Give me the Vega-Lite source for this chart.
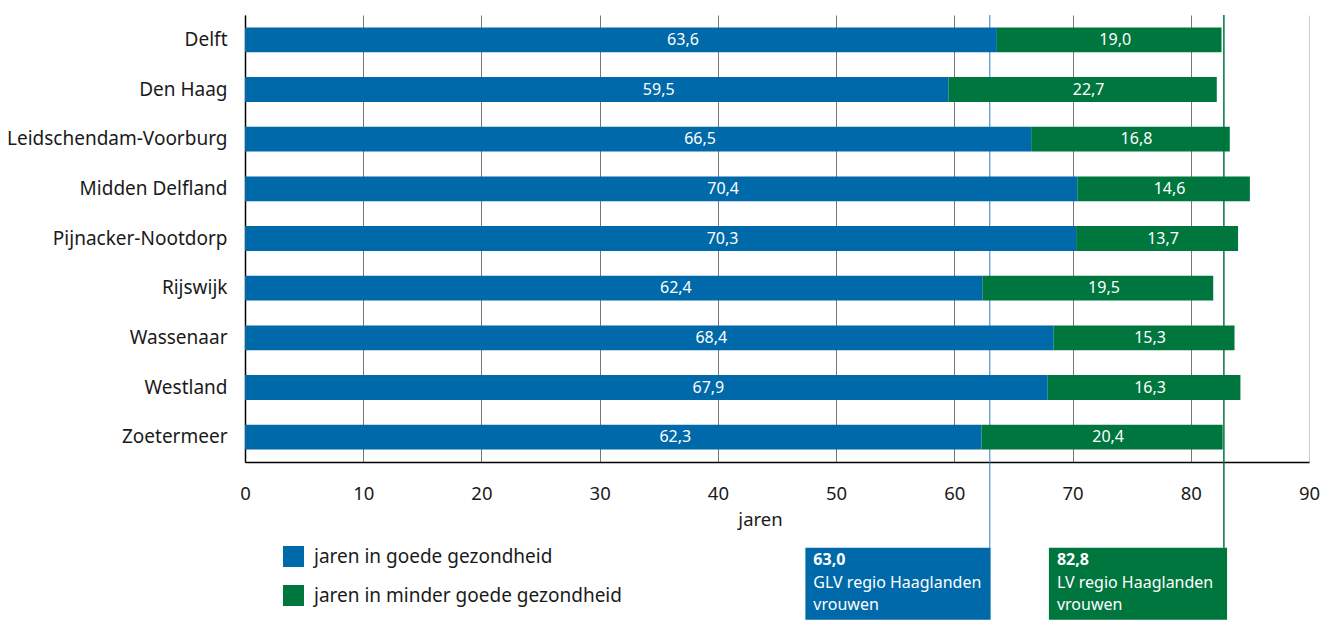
{
  "$schema": "https://vega.github.io/schema/vega-lite/v6.json",
  "width": 1064,
  "height": 447,
  "autosize": {"type": "none"},
  "padding": {"left": 245, "top": 15, "right": 15, "bottom": 158},
  "config": {
    "font": "Noto Sans",
    "view": {"stroke": null},
    "locale": {"number": {"decimal": ",", "thousands": ".", "grouping": [3], "currency": ["€ ", ""]}}
  },
  "datasets": {
    "tabel": [
      {"gemeente": "Delft", "categorie": "jaren in goede gezondheid", "jaren": 63.6},
      {"gemeente": "Delft", "categorie": "jaren in minder goede gezondheid", "jaren": 19.0},
      {"gemeente": "Den Haag", "categorie": "jaren in goede gezondheid", "jaren": 59.5},
      {"gemeente": "Den Haag", "categorie": "jaren in minder goede gezondheid", "jaren": 22.7},
      {"gemeente": "Leidschendam-Voorburg", "categorie": "jaren in goede gezondheid", "jaren": 66.5},
      {"gemeente": "Leidschendam-Voorburg", "categorie": "jaren in minder goede gezondheid", "jaren": 16.8},
      {"gemeente": "Midden Delfland", "categorie": "jaren in goede gezondheid", "jaren": 70.4},
      {"gemeente": "Midden Delfland", "categorie": "jaren in minder goede gezondheid", "jaren": 14.6},
      {"gemeente": "Pijnacker-Nootdorp", "categorie": "jaren in goede gezondheid", "jaren": 70.3},
      {"gemeente": "Pijnacker-Nootdorp", "categorie": "jaren in minder goede gezondheid", "jaren": 13.7},
      {"gemeente": "Rijswijk", "categorie": "jaren in goede gezondheid", "jaren": 62.4},
      {"gemeente": "Rijswijk", "categorie": "jaren in minder goede gezondheid", "jaren": 19.5},
      {"gemeente": "Wassenaar", "categorie": "jaren in goede gezondheid", "jaren": 68.4},
      {"gemeente": "Wassenaar", "categorie": "jaren in minder goede gezondheid", "jaren": 15.3},
      {"gemeente": "Westland", "categorie": "jaren in goede gezondheid", "jaren": 67.9},
      {"gemeente": "Westland", "categorie": "jaren in minder goede gezondheid", "jaren": 16.3},
      {"gemeente": "Zoetermeer", "categorie": "jaren in goede gezondheid", "jaren": 62.3},
      {"gemeente": "Zoetermeer", "categorie": "jaren in minder goede gezondheid", "jaren": 20.4}
    ]
  },
  "resolve": {"scale": {"y": "independent"}},
  "layer": [
    {
      "data": {"values": [{}]},
      "mark": {"type": "rule", "color": "#2a7fc0", "strokeWidth": 1},
      "encoding": {
        "x": {"datum": 63.0, "type": "quantitative"},
        "y": {"datum": 1, "type": "quantitative", "scale": {"domain": [0, 1]}, "axis": null},
        "y2": {"datum": -0.192}
      }
    },
    {
      "data": {"values": [{}]},
      "mark": {"type": "rule", "color": "#00773f", "strokeWidth": 1.5},
      "encoding": {
        "x": {"datum": 82.8, "type": "quantitative"},
        "y": {"datum": 1, "type": "quantitative", "scale": {"domain": [0, 1]}, "axis": null},
        "y2": {"datum": -0.192}
      }
    },
    {
      "data": {"name": "tabel"},
      "transform": [
        {"stack": "jaren", "groupby": ["gemeente"], "sort": [{"field": "categorie", "order": "ascending"}], "as": ["x0", "x1"]}
      ],
      "mark": {"type": "bar"},
      "encoding": {
        "y": {
          "field": "gemeente", "type": "nominal", "sort": null,
          "scale": {"paddingInner": 0.5, "paddingOuter": 0.25},
          "axis": {"title": null, "ticks": false, "labelPadding": 18, "labelFontSize": 19, "labelLimit": 0, "labelColor": "#1a1a1a", "domainColor": "#000000", "domainWidth": 1.5}
        },
        "x": {
          "field": "x0", "type": "quantitative",
          "scale": {"domain": [0, 90], "nice": false},
          "axis": {
            "title": "jaren", "values": [0, 10, 20, 30, 40, 50, 60, 70, 80, 90],
            "grid": true,
            "gridColor": {"condition": {"test": "datum.value === 90", "value": "#cccccc"}, "value": "#777777"},
            "gridWidth": 1,
            "ticks": false, "domainColor": "#000000", "domainWidth": 1.5,
            "labelFlush": false, "labelOverlap": false,
            "labelPadding": 22, "labelFontSize": 18.5, "labelColor": "#1a1a1a",
            "titleFontSize": 18.5, "titleFontWeight": "normal", "titleColor": "#1a1a1a", "titlePadding": 8, "titleX": 515
          }
        },
        "x2": {"field": "x1"},
        "color": {
          "field": "categorie", "type": "nominal",
          "scale": {"domain": ["jaren in goede gezondheid", "jaren in minder goede gezondheid"], "range": ["#0069aa", "#00763f"]},
          "legend": {
            "title": null, "orient": "none", "legendX": 38, "legendY": 531, "direction": "vertical",
            "symbolType": "square", "symbolSize": 441, "symbolStrokeWidth": 0, "symbolOpacity": 1,
            "labelFontSize": 19, "labelLimit": 0, "labelColor": "#1a1a1a", "rowPadding": 18, "labelOffset": 10, "padding": 0
          }
        }
      }
    },
    {
      "data": {"name": "tabel"},
      "transform": [
        {"stack": "jaren", "groupby": ["gemeente"], "sort": [{"field": "categorie", "order": "ascending"}], "as": ["x0", "x1"]},
        {"calculate": "(datum.x0 + datum.x1) / 2", "as": "midden"},
        {"filter": "datum.categorie === 'jaren in goede gezondheid'"}
      ],
      "mark": {"type": "text", "color": "white", "fontSize": 16, "dx": 62, "baseline": "middle"},
      "encoding": {
        "y": {"field": "gemeente", "type": "nominal", "sort": null, "scale": {"paddingInner": 0.5, "paddingOuter": 0.25}, "axis": null},
        "x": {"field": "midden", "type": "quantitative"},
        "text": {"field": "jaren", "type": "quantitative", "format": ".1f"}
      }
    },
    {
      "data": {"name": "tabel"},
      "transform": [
        {"stack": "jaren", "groupby": ["gemeente"], "sort": [{"field": "categorie", "order": "ascending"}], "as": ["x0", "x1"]},
        {"calculate": "(datum.x0 + datum.x1) / 2", "as": "midden"},
        {"filter": "datum.categorie === 'jaren in minder goede gezondheid'"}
      ],
      "mark": {"type": "text", "color": "white", "fontSize": 16, "dx": 6, "baseline": "middle"},
      "encoding": {
        "y": {"field": "gemeente", "type": "nominal", "sort": null, "scale": {"paddingInner": 0.5, "paddingOuter": 0.25}, "axis": null},
        "x": {"field": "midden", "type": "quantitative"},
        "text": {"field": "jaren", "type": "quantitative", "format": ".1f"}
      }
    },
    {
      "data": {"values": [{}]},
      "mark": {"type": "rect", "color": "#0069aa"},
      "encoding": {
        "x": {"datum": 47.4, "type": "quantitative"},
        "x2": {"datum": 63.07},
        "y": {"datum": -0.192, "type": "quantitative", "scale": {"domain": [0, 1]}, "axis": null},
        "y2": {"datum": -0.353}
      }
    },
    {
      "data": {"values": [{}]},
      "mark": {"type": "rect", "color": "#00763f"},
      "encoding": {
        "x": {"datum": 68.0, "type": "quantitative"},
        "x2": {"datum": 83.07},
        "y": {"datum": -0.192, "type": "quantitative", "scale": {"domain": [0, 1]}, "axis": null},
        "y2": {"datum": -0.353}
      }
    },
    {
      "data": {"values": [{}]},
      "mark": {"type": "text", "color": "white", "fontSize": 16, "fontWeight": "bold", "align": "left", "baseline": "middle", "dx": 8},
      "encoding": {
        "x": {"datum": 47.4, "type": "quantitative"},
        "y": {"datum": -0.219, "type": "quantitative", "scale": {"domain": [0, 1]}, "axis": null},
        "text": {"value": "63,0"}
      }
    },
    {
      "data": {"values": [{}]},
      "mark": {"type": "text", "color": "white", "fontSize": 16, "align": "left", "baseline": "middle", "dx": 8},
      "encoding": {
        "x": {"datum": 47.4, "type": "quantitative"},
        "y": {"datum": -0.2707, "type": "quantitative", "scale": {"domain": [0, 1]}, "axis": null},
        "text": {"value": "GLV regio Haaglanden"}
      }
    },
    {
      "data": {"values": [{}]},
      "mark": {"type": "text", "color": "white", "fontSize": 16, "align": "left", "baseline": "middle", "dx": 8},
      "encoding": {
        "x": {"datum": 47.4, "type": "quantitative"},
        "y": {"datum": -0.3199, "type": "quantitative", "scale": {"domain": [0, 1]}, "axis": null},
        "text": {"value": "vrouwen"}
      }
    },
    {
      "data": {"values": [{}]},
      "mark": {"type": "text", "color": "white", "fontSize": 16, "fontWeight": "bold", "align": "left", "baseline": "middle", "dx": 8},
      "encoding": {
        "x": {"datum": 68.0, "type": "quantitative"},
        "y": {"datum": -0.219, "type": "quantitative", "scale": {"domain": [0, 1]}, "axis": null},
        "text": {"value": "82,8"}
      }
    },
    {
      "data": {"values": [{}]},
      "mark": {"type": "text", "color": "white", "fontSize": 16, "align": "left", "baseline": "middle", "dx": 8},
      "encoding": {
        "x": {"datum": 68.0, "type": "quantitative"},
        "y": {"datum": -0.2707, "type": "quantitative", "scale": {"domain": [0, 1]}, "axis": null},
        "text": {"value": "LV regio Haaglanden"}
      }
    },
    {
      "data": {"values": [{}]},
      "mark": {"type": "text", "color": "white", "fontSize": 16, "align": "left", "baseline": "middle", "dx": 8},
      "encoding": {
        "x": {"datum": 68.0, "type": "quantitative"},
        "y": {"datum": -0.3199, "type": "quantitative", "scale": {"domain": [0, 1]}, "axis": null},
        "text": {"value": "vrouwen"}
      }
    }
  ]
}
